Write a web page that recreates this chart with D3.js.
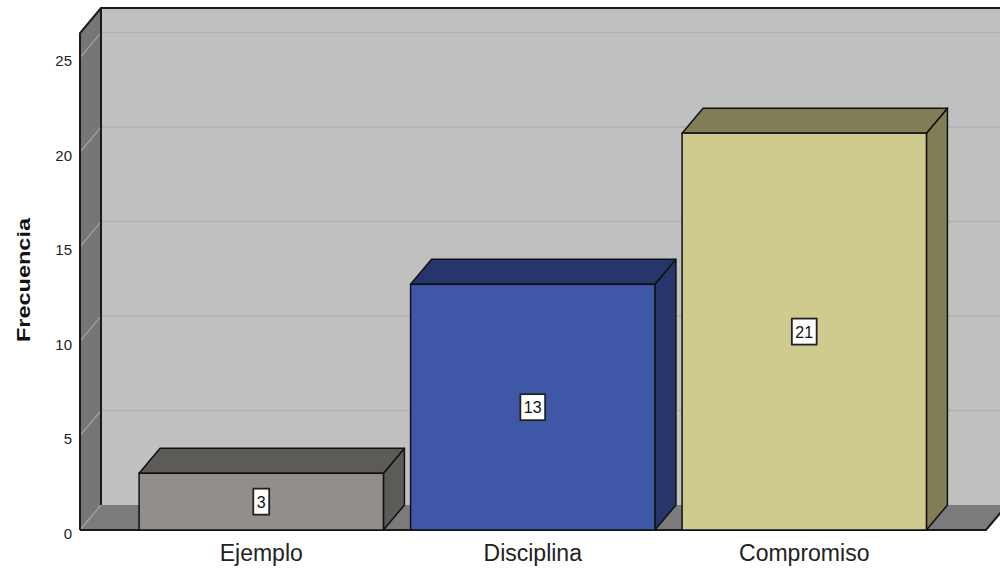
<!DOCTYPE html>
<html>
<head>
<meta charset="utf-8">
<script src="https://cdn.jsdelivr.net/npm/d3@7"></script>
<style>
  body { margin: 0; background: #fff; }
  text { font-family: "Liberation Sans", Arial, sans-serif; }
</style>
</head>
<body>
<svg id="chart"></svg>
<script>
// data
var categories = ["Ejemplo", "Disciplina", "Compromiso"];
var values = [3, 13, 21];
var tickValues = [0, 5, 10, 15, 20, 25];
var frontColors = ["#928e8b", "#3e58a7", "#cfca8e"];
var darkColors = ["#5d5b58", "#26356a", "#817d56"];

var width = 1000, height = 568;
var dx = 21, dy = -25;           // 3d depth offset
var left = 80, right = 986, bottom = 530;

var svg = d3.select("#chart").attr("width", width).attr("height", height);

var y = d3.scaleLinear().domain([0, 26.3]).range([bottom, 33]);
var x = d3.scaleBand().domain(categories).range([125.5, 940])
          .paddingInner(0.1).paddingOuter(0.05);

var yTop = y.range()[1];

// back wall
svg.append("rect")
   .attr("x", left + dx).attr("y", yTop + dy)
   .attr("width", right - left + 20).attr("height", bottom - yTop)
   .attr("fill", "#c0c0c0");

// floor
svg.append("polygon")
   .attr("points", [[left, bottom], [right, bottom], [right + dx, bottom + dy], [left + dx, bottom + dy]].join(" "))
   .attr("fill", "#7b7b7b");

// left wall
svg.append("polygon")
   .attr("points", [[left, bottom], [left, yTop], [left + dx, yTop + dy], [left + dx, bottom + dy]].join(" "))
   .attr("fill", "#767676");

// grid lines
tickValues.forEach(function(t) {
    if (t > 0) {
        svg.append("line")
           .attr("x1", left + dx).attr("x2", right + dx + 20)
           .attr("y1", y(t) + dy).attr("y2", y(t) + dy)
           .attr("stroke", "#b1b1b1").attr("stroke-width", 1.5);
    }
    svg.append("line")
       .attr("x1", left).attr("x2", left + dx)
       .attr("y1", y(t)).attr("y2", y(t) + dy)
       .attr("stroke", "#a5a5a5").attr("stroke-width", 1.2);
});

// wall edges
var edge = "#1a1a1a";
svg.append("path")
   .attr("d", "M" + left + "," + bottom + "V" + yTop + "L" + (left + dx) + "," + (yTop + dy) + "H" + (right + dx + 20))
   .attr("fill", "none").attr("stroke", edge).attr("stroke-width", 2);
svg.append("line")
   .attr("x1", left + dx).attr("x2", left + dx)
   .attr("y1", yTop + dy).attr("y2", bottom + dy)
   .attr("stroke", edge).attr("stroke-width", 2);
svg.append("path")
   .attr("d", "M" + left + "," + bottom + "H" + right + "L" + (right + dx) + "," + (bottom + dy))
   .attr("fill", "none").attr("stroke", edge).attr("stroke-width", 2);

// tick labels
svg.selectAll(".tick")
   .data(tickValues)
   .enter().append("text")
   .attr("x", 72).attr("y", function(d) { return y(d) + 8.5; })
   .attr("text-anchor", "end")
   .attr("font-size", 15).attr("fill", "#222")
   .text(function(d) { return d; });

// bars
var bw = x.bandwidth();
var bars = svg.selectAll(".bar").data(values).enter().append("g");

bars.append("polygon")   // side
    .attr("points", function(d, i) {
        var x1 = x(categories[i]) + bw;
        return [[x1, y(0)], [x1, y(d)], [x1 + dx, y(d) + dy], [x1 + dx, y(0) + dy]].join(" ");
    })
    .attr("fill", function(d, i) { return darkColors[i]; })
    .attr("stroke", "#111").attr("stroke-width", 1.5).attr("stroke-linejoin", "round");

bars.append("polygon")   // top
    .attr("points", function(d, i) {
        var x0 = x(categories[i]);
        return [[x0, y(d)], [x0 + bw, y(d)], [x0 + bw + dx, y(d) + dy], [x0 + dx, y(d) + dy]].join(" ");
    })
    .attr("fill", function(d, i) { return darkColors[i]; })
    .attr("stroke", "#111").attr("stroke-width", 1.5).attr("stroke-linejoin", "round");

bars.append("rect")      // front
    .attr("x", function(d, i) { return x(categories[i]); })
    .attr("y", function(d) { return y(d); })
    .attr("width", bw)
    .attr("height", function(d) { return y(0) - y(d); })
    .attr("fill", function(d, i) { return frontColors[i]; })
    .attr("stroke", "#111").attr("stroke-width", 1.5);

// value labels
bars.each(function(d, i) {
    var g = d3.select(this);
    var cx = x(categories[i]) + bw / 2;
    var cy = y(d / 2);
    var t = g.append("text")
        .attr("x", cx).attr("y", cy + 6)
        .attr("text-anchor", "middle")
        .attr("font-size", 16).attr("fill", "#111")
        .text(d);
    var w = t.node().getComputedTextLength() + 7;
    g.insert("rect", "text")
        .attr("x", cx - w / 2).attr("y", cy - 13)
        .attr("width", w).attr("height", 26)
        .attr("fill", "#fff").attr("stroke", "#222").attr("stroke-width", 1.8);
});

// category labels
svg.selectAll(".cat")
   .data(categories)
   .enter().append("text")
   .attr("x", function(d) { return x(d) + bw / 2; })
   .attr("y", 561)
   .attr("text-anchor", "middle")
   .attr("font-size", 23).attr("fill", "#222")
   .text(function(d) { return d; });

// y axis title
svg.append("text")
   .attr("transform", "translate(30,280) rotate(-90)")
   .attr("text-anchor", "middle")
   .attr("font-size", 18).attr("font-weight", "bold").attr("fill", "#111")
   .attr("textLength", 124).attr("lengthAdjust", "spacingAndGlyphs")
   .text("Frecuencia");
</script>
</body>
</html>
